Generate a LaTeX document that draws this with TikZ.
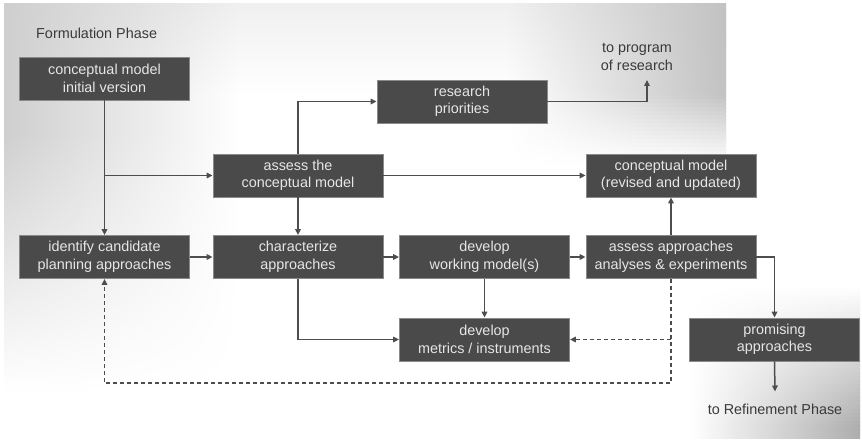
\documentclass[tikz,border=0pt]{standalone}
\usepackage{fontspec}
\setmainfont{Liberation Sans}
\usetikzlibrary{arrows.meta}

\definecolor{boxfill}{HTML}{4A4A4A}
\definecolor{boxrim}{HTML}{8A8A8A}
\definecolor{boxtext}{HTML}{E6E6E6}
\definecolor{wire}{HTML}{4D4D4D}
\definecolor{labeltext}{HTML}{3A3A3A}

\tikzset{
  stepbox/.style={rectangle, fill=boxfill, draw=boxrim, line width=0.8pt,
    minimum width=170pt, minimum height=43pt, inner sep=0pt,
    align=center, text=boxtext},
  plainlabel/.style={align=center, text=labeltext, inner sep=0pt},
  flow/.style={draw=wire, line width=1.5pt,
    -{Triangle[length=6pt,width=5.5pt]}},
  backflow/.style={draw=wire, line width=1.4pt, dash pattern=on 4pt off 3pt,
    -{Triangle[length=6pt,width=5.5pt]}},
}

\begin{document}
\begin{tikzpicture}[x=1pt, y=-1pt, font=\fontsize{14.4}{17.5}\selectfont]
  \useasboundingbox[fill=white] (0,0) rectangle (862,443);

  % background panels, built from thin horizontally shaded strips
  \fill[top color=black!6, bottom color=white] (4,4) rectangle (726,95);
  % left panel: grey along the left edge, fading out lower down
  \foreach \yy in {4,8,...,388}{
    \pgfmathsetmacro{\k}{max(0,min(19,19*(392-\yy)/260))}
    \pgfmathsetmacro{\j}{max(0,6*(95-\yy)/91)}
    \fill[left color=black!\k, right color=black!\j] (4,\yy) rectangle (240,\yy+5);
  }
  % upper right panel: grey along its right edge, fading out below
  \foreach \yy in {4,8,...,160}{
    \pgfmathsetmacro{\k}{max(0,min(24,24*(164-\yy)/70))}
    \pgfmathsetmacro{\j}{max(0,6*(95-\yy)/91)}
    \fill[left color=black!\j, right color=black!\k] (507,\yy) rectangle (726,\yy+5);
  }
  % lower right panel: grey along the right edge, growing downwards
  \foreach \yy in {285,289,...,436}{
    \pgfmathsetmacro{\k}{max(0,min(32,32*(\yy-285)/140))}
    \fill[left color=white, right color=black!\k] (690,\yy) rectangle (860,\yy+5);
  }

  % titles and loose labels
  \node[plainlabel, anchor=west] (phase) at (36,33) {Formulation Phase};
  \node[plainlabel] (toprog) at (637,57) {to program\\of research};
  \node[plainlabel] (refine) at (775,409) {to Refinement Phase};
  \coordinate (progend) at (647,80);

  % process boxes
  \node[stepbox] (cmi)   at (104.5,78.5)  {conceptual model\\initial version};
  \node[stepbox] (assess) at (298,175.5)  {assess the\\conceptual model};
  \node[stepbox] (prior) at (462,101.5)   {research\\priorities};
  \node[stepbox] (cmr)   at (671,175.5)   {conceptual model\\(revised and updated)};
  \node[stepbox] (ident) at (104.5,257)   {identify candidate\\planning approaches};
  \node[stepbox] (charac) at (298,257)    {characterize\\approaches};
  \node[stepbox] (work)  at (484.5,257)   {develop\\working model(s)};
  \node[stepbox] (aapp)  at (671,257)     {assess approaches\\analyses \& experiments};
  \node[stepbox] (metr)  at (484.5,339.5) {develop\\metrics / instruments};
  \node[stepbox] (prom)  at (774.5,339.5) {promising\\approaches};

  % solid connectors
  \coordinate (split) at (104.5,175.5);
  \draw[flow] (cmi) -- (ident);
  \draw[flow] (split) -- (assess.west);
  \draw[flow] (assess.north) |- (prior.west);
  \draw[flow] (prior.east) -| (progend);
  \draw[flow] (assess.east) -- (cmr.west);
  \draw[flow] (assess) -- (charac);
  \draw[flow] (ident) -- (charac);
  \draw[flow] (charac) -- (work);
  \draw[flow] (work) -- (aapp);
  \draw[flow] (charac.south) |- (metr.west);
  \draw[flow] (work) -- (metr);
  \draw[flow] (aapp) -- (cmr);
  \draw[flow] (aapp.east) -| (prom.north);
  \draw[flow] (prom.south) -- ([yshift=12pt]refine.north);

  % dashed feedback loops
  \coordinate (loopcorner) at (671,383);
  \draw[backflow] (aapp.south) -- (loopcorner) -| (ident.south);
  \draw[backflow] (aapp.south |- metr.east) -- (metr.east);
\end{tikzpicture}
\end{document}
